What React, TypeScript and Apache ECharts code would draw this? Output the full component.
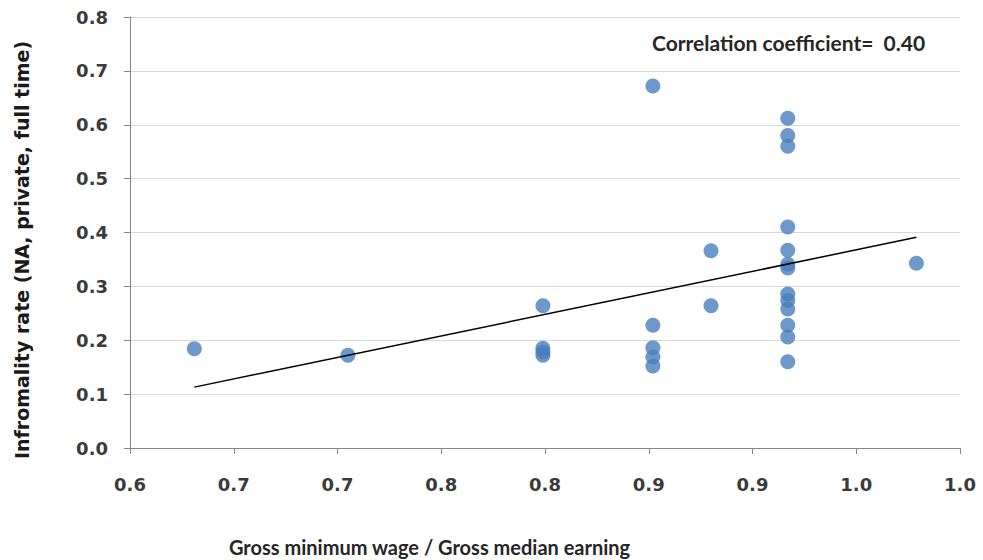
import React, { useEffect, useRef } from "react";
import * as echarts from "echarts";

// Gross minimum wage / gross median earning, per observation
const wageRatio = [
  0.631, 0.705,
  0.799, 0.799, 0.799, 0.799,
  0.852, 0.852, 0.852, 0.852, 0.852,
  0.88, 0.88,
  0.917, 0.917, 0.917, 0.917, 0.917, 0.917, 0.917, 0.917, 0.917, 0.917, 0.917, 0.917, 0.917,
  0.979,
];

// Informality rate (NA, private, full time), same order as wageRatio
const informality = [
  0.184, 0.172,
  0.264, 0.185, 0.178, 0.172,
  0.672, 0.228, 0.186, 0.169, 0.152,
  0.366, 0.264,
  0.612, 0.58, 0.56, 0.41, 0.367, 0.341, 0.334, 0.286, 0.274, 0.258, 0.228, 0.206, 0.16,
  0.343,
];

// Linear trend line end points
const trendX = [0.631, 0.979];
const trendY = [0.113, 0.391];

const correlationText = "Correlation coefficient=  0.40";
const xTitle = "Gross minimum wage / Gross median earning";
const yTitle = "Infromality rate (NA, private, full time)";

export default function App() {
  const ref = useRef<HTMLDivElement>(null);

  useEffect(() => {
    if (!ref.current) return;
    const chart = echarts.init(ref.current, undefined, { renderer: "svg" });
    const points = wageRatio.map((x, i) => [x, informality[i]]);
    const trend = trendX.map((x, i) => [x, trendY[i]]);
    const tickFont = {
      fontFamily: "DejaVu Sans",
      fontWeight: "bold" as const,
      fontSize: 18,
      color: "#3a3a3a",
    };

    chart.setOption({
      animation: false,
      backgroundColor: "#ffffff",
      grid: { left: 130, right: 23, top: 17, bottom: 112, containLabel: false },
      xAxis: {
        type: "value",
        min: 0.6,
        max: 1.0,
        interval: 0.05,
        axisLine: { show: true, lineStyle: { color: "#868686", width: 1 } },
        axisTick: { show: true, length: 6, lineStyle: { color: "#868686" } },
        splitLine: { show: false },
        axisLabel: {
          ...tickFont,
          margin: 27,
          formatter: (v: number) => (Math.round(v * 10 + 1e-6) / 10).toFixed(1),
        },
      },
      yAxis: {
        type: "value",
        min: 0,
        max: 0.8,
        interval: 0.1,
        axisLine: { show: true, lineStyle: { color: "#868686", width: 1 } },
        axisTick: { show: true, length: 6, lineStyle: { color: "#868686" } },
        splitLine: { show: true, lineStyle: { color: "#d9d9d9", width: 1 } },
        axisLabel: {
          ...tickFont,
          margin: 22,
          formatter: (v: number) => v.toFixed(1),
        },
      },
      graphic: [
        {
          type: "text",
          left: 652,
          top: 32,
          style: {
            text: correlationText,
            fontFamily: "Lato",
            fontWeight: "bold",
            fontSize: 21,
            fill: "#262626",
          },
        },
        {
          type: "text",
          left: 229,
          top: 537,
          style: {
            text: xTitle,
            fontFamily: "Lato",
            fontWeight: "bold",
            fontSize: 20,
            fill: "#262626",
          },
        },
        {
          type: "text",
          x: 22,
          y: 250,
          rotation: Math.PI / 2,
          style: {
            text: yTitle,
            fontFamily: "DejaVu Sans",
            fontWeight: "bold",
            fontSize: 19,
            fill: "#1a1a1a",
            align: "center",
            verticalAlign: "middle",
          },
        },
      ],
      series: [
        {
          type: "scatter",
          data: points,
          symbol: "circle",
          symbolSize: 15,
          itemStyle: { color: "#4a7ebb" },
          z: 3,
        },
        {
          type: "line",
          data: trend,
          symbol: "none",
          lineStyle: { color: "#000000", width: 1.5 },
          z: 4,
        },
      ],
    });

    return () => chart.dispose();
  }, []);

  return (
    <div
      ref={ref}
      style={{ position: "fixed", left: 0, top: 0, width: 983, height: 560, background: "#fff" }}
    />
  );
}
